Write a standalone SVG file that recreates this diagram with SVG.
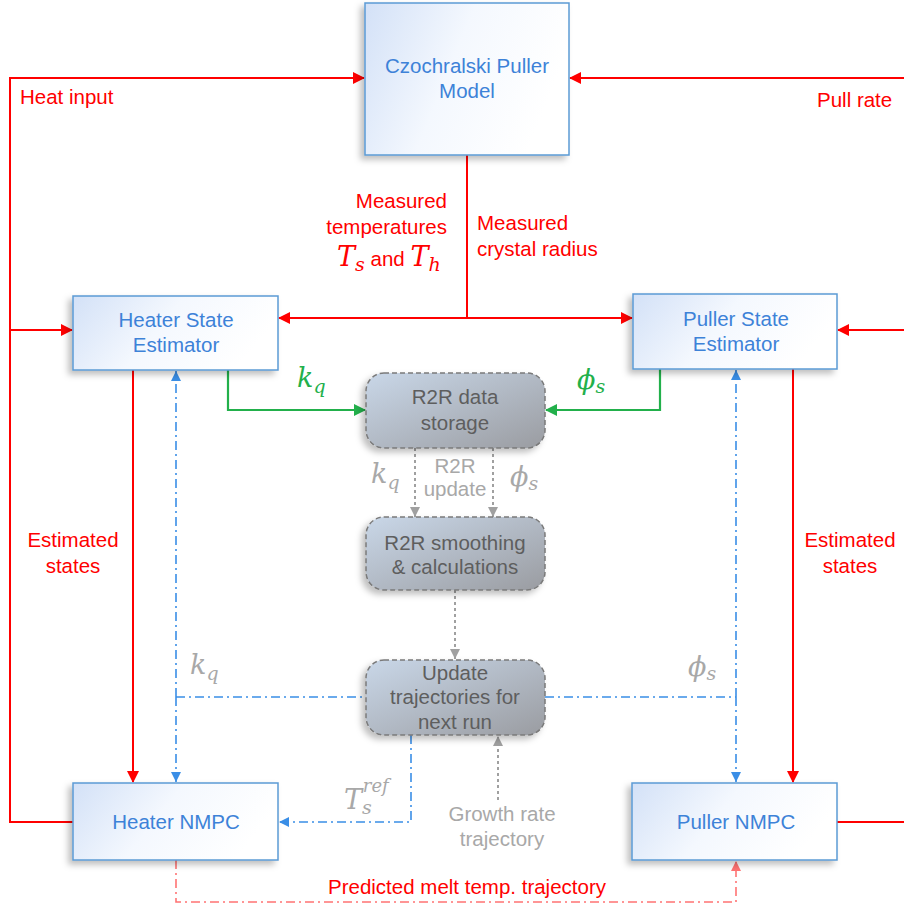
<svg xmlns="http://www.w3.org/2000/svg" width="904" height="909" viewBox="0 0 904 909">
<style>
.lbl{font-family:"Liberation Sans",Arial,sans-serif;font-size:20.5px;fill:#3d82d8;text-anchor:middle}
.glbl{font-family:"Liberation Sans",Arial,sans-serif;font-size:20.5px;fill:#5e5e5e;text-anchor:middle}
.red{font-family:"Liberation Sans",Arial,sans-serif;font-size:20.5px;fill:#ff0000}
.gray{font-family:"Liberation Sans",Arial,sans-serif;font-size:20.5px;fill:#a8a8a8}
.math{font-family:"DejaVu Serif","Liberation Serif",serif;font-style:italic;font-size:27px}
.box{fill:url(#bg);stroke:#5b9bd5;stroke-width:1.5;filter:url(#sh)}
.gbox{fill:url(#gg);stroke:#7a7a7a;stroke-width:1.5;stroke-dasharray:5,3;filter:url(#sh)}
.rl{fill:none;stroke:#ff0000;stroke-width:2}
.gl{fill:none;stroke:#22b04b;stroke-width:2.2}
.bl{fill:none;stroke:#3a8ee6;stroke-width:1.6;stroke-dasharray:9,4,2,4}
.pl{fill:none;stroke:#ff7373;stroke-width:1.6;stroke-dasharray:9,4,2,4}
.dl{fill:none;stroke:#a0a0a0;stroke-width:2;stroke-dasharray:3,3}
</style>
<defs>
<linearGradient id="bg" x1="0" y1="0" x2="1" y2="0.3">
<stop offset="0" stop-color="#d3e1f7"/><stop offset="0.5" stop-color="#f4f8fe"/><stop offset="1" stop-color="#ffffff"/>
</linearGradient>
<linearGradient id="gg" x1="0" y1="0" x2="1" y2="1">
<stop offset="0" stop-color="#c9d7e8"/><stop offset="1" stop-color="#9a9ca1"/>
</linearGradient>
<filter id="sh" x="-10%" y="-10%" width="120%" height="130%">
<feDropShadow dx="-4" dy="4" stdDeviation="3" flood-color="#000" flood-opacity="0.25"/>
</filter>
<marker id="ar" markerWidth="12" markerHeight="12" refX="11" refY="6" orient="auto" markerUnits="userSpaceOnUse"><path d="M0,0 L12,6 L0,12 z" fill="#ff0000"/></marker>
<marker id="ag" markerWidth="12" markerHeight="12" refX="11" refY="6" orient="auto" markerUnits="userSpaceOnUse"><path d="M0,0 L12,6 L0,12 z" fill="#22b04b"/></marker>
<marker id="ab" markerWidth="10" markerHeight="10" refX="10" refY="5" orient="auto" markerUnits="userSpaceOnUse"><path d="M0,0 L10,5 L0,10 z" fill="#3a8ee6"/></marker>
<marker id="ap" markerWidth="10" markerHeight="10" refX="10" refY="5" orient="auto" markerUnits="userSpaceOnUse"><path d="M0,0 L10,5 L0,10 z" fill="#ff7373"/></marker>
<marker id="ad" markerWidth="10" markerHeight="10" refX="10" refY="5" orient="auto" markerUnits="userSpaceOnUse"><path d="M0,0 L10,5 L0,10 z" fill="#a0a0a0"/></marker>
</defs>
<rect width="904" height="909" fill="#ffffff"/>

<g id="connectors">
<path class="rl" d="M73,822 H10 V78 H364" marker-end="url(#ar)"/>
<path class="rl" d="M10,330 H72" marker-end="url(#ar)"/>
<path class="rl" d="M904,78 H570" marker-end="url(#ar)"/>
<path class="rl" d="M904,330 H838" marker-end="url(#ar)"/>
<path class="rl" d="M837,822 H904"/>
<path class="rl" d="M467,155 V318"/>
<path class="rl" d="M467,318 H279" marker-end="url(#ar)"/>
<path class="rl" d="M467,318 H632" marker-end="url(#ar)"/>
<path class="rl" d="M133,370 V782" marker-end="url(#ar)"/>
<path class="rl" d="M793,369 V782" marker-end="url(#ar)"/>
<path class="gl" d="M228,370 V410 H365" marker-end="url(#ag)"/>
<path class="gl" d="M660,369 V410 H546" marker-end="url(#ag)"/>
<path class="bl" d="M176,697 V371" marker-end="url(#ab)"/>
<path class="bl" d="M176,697 V782" marker-end="url(#ab)"/>
<path class="bl" d="M176,697 H366"/>
<path class="bl" d="M736,697 V370" marker-end="url(#ab)"/>
<path class="bl" d="M736,697 V782" marker-end="url(#ab)"/>
<path class="bl" d="M545,697 H736"/>
<path class="bl" d="M411,735 V822 H279" marker-end="url(#ab)"/>
<path class="pl" d="M176,860 V902 H736 V861" marker-end="url(#ap)"/>
<path class="dl" d="M415,448 V517" marker-end="url(#ad)"/>
<path class="dl" d="M493,448 V517" marker-end="url(#ad)"/>
<path class="dl" d="M455,590 V659" marker-end="url(#ad)"/>
<path class="dl" d="M498,800 V736" marker-end="url(#ad)"/>
</g>

<g id="model">
<rect class="box" x="365" y="3" width="204" height="152"/>
<text class="lbl" x="467" y="73">Czochralski Puller</text>
<text class="lbl" x="467" y="98">Model</text>
</g>
<g id="heater-estimator">
<rect class="box" x="73" y="296" width="205" height="74"/>
<text class="lbl" x="176" y="327">Heater State</text>
<text class="lbl" x="176" y="352">Estimator</text>
</g>
<g id="puller-estimator">
<rect class="box" x="633" y="294" width="204" height="75"/>
<text class="lbl" x="736" y="326">Puller State</text>
<text class="lbl" x="736" y="351">Estimator</text>
</g>
<g id="heater-nmpc">
<rect class="box" x="73" y="783" width="205" height="77"/>
<text class="lbl" x="176" y="829">Heater NMPC</text>
</g>
<g id="puller-nmpc">
<rect class="box" x="632" y="783" width="205" height="77"/>
<text class="lbl" x="736" y="829">Puller NMPC</text>
</g>
<g id="r2r-storage">
<rect class="gbox" x="366" y="373" width="179" height="75" rx="18"/>
<text class="glbl" x="455" y="404">R2R data</text>
<text class="glbl" x="455" y="430">storage</text>
</g>
<g id="r2r-smoothing">
<rect class="gbox" x="366" y="517" width="179" height="73" rx="18"/>
<text class="glbl" x="455" y="550">R2R smoothing</text>
<text class="glbl" x="455" y="574">&amp; calculations</text>
</g>
<g id="update">
<rect class="gbox" x="366" y="660" width="179" height="75" rx="18"/>
<text class="glbl" x="455" y="680">Update</text>
<text class="glbl" x="455" y="704">trajectories for</text>
<text class="glbl" x="455" y="729">next run</text>
</g>

<g id="labels">
<text class="red" x="20" y="104">Heat input</text>
<text class="red" x="817" y="107">Pull rate</text>
<text class="red" x="447" y="208" text-anchor="end">Measured</text>
<text class="red" x="447" y="234" text-anchor="end">temperatures</text>
<text class="math" x="337" y="266" fill="#ff0000">T<tspan font-size="19" dy="5">s</tspan><tspan dy="-5" font-style="normal" font-family="Liberation Sans,Arial,sans-serif" font-size="20.5"> and </tspan>T<tspan font-size="19" dy="5">h</tspan></text>
<text class="red" x="477" y="230">Measured</text>
<text class="red" x="477" y="256">crystal radius</text>
<text class="red" x="73" y="547" text-anchor="middle">Estimated</text>
<text class="red" x="73" y="573" text-anchor="middle">states</text>
<text class="red" x="850" y="547" text-anchor="middle">Estimated</text>
<text class="red" x="850" y="573" text-anchor="middle">states</text>
<text class="red" x="467" y="894" text-anchor="middle">Predicted melt temp. trajectory</text>
<text class="math" x="297" y="387" fill="#22b04b">k<tspan font-size="19" dy="6">q</tspan></text>
<text class="math" x="577" y="389" fill="#22b04b">ϕ<tspan font-size="19" dy="4">s</tspan></text>
<text class="math" x="371" y="483" fill="#a8a8a8">k<tspan font-size="19" dy="6">q</tspan></text>
<text class="math" x="510" y="486" fill="#a8a8a8">ϕ<tspan font-size="19" dy="4">s</tspan></text>
<text class="gray" x="455" y="473" text-anchor="middle" font-size="15">R2R</text>
<text class="gray" x="455" y="496" text-anchor="middle" font-size="15">update</text>
<text class="math" x="190" y="674" fill="#a8a8a8">k<tspan font-size="19" dy="6">q</tspan></text>
<text class="math" x="688" y="676" fill="#a8a8a8">ϕ<tspan font-size="19" dy="4">s</tspan></text>
<text class="math" x="344" y="809" fill="#a8a8a8">T<tspan font-size="19" dy="5">s</tspan><tspan font-size="18" dx="-9" dy="-22">ref</tspan></text>
<text class="gray" x="502" y="821" text-anchor="middle">Growth rate</text>
<text class="gray" x="502" y="846" text-anchor="middle">trajectory</text>
</g>
</svg>
